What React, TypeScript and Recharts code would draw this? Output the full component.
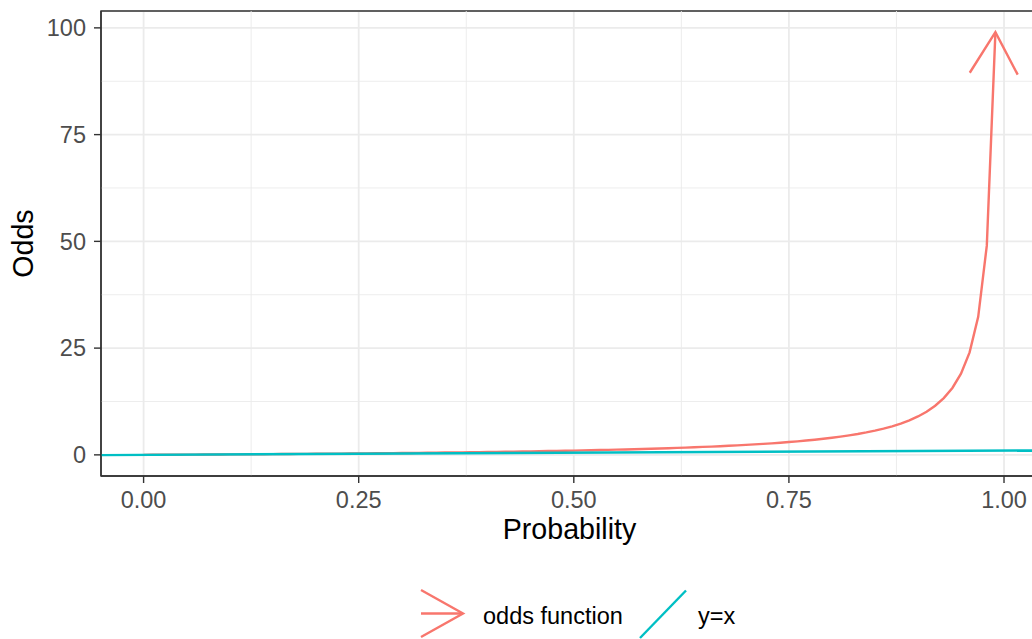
import { LineChart, Line, XAxis, YAxis, CartesianGrid, ReferenceLine, ReferenceArea, Legend, Label } from "recharts"

const probabilities = [
  0, 0.01, 0.02, 0.03, 0.04, 0.05, 0.06, 0.07, 0.08, 0.09,
  0.1, 0.11, 0.12, 0.13, 0.14, 0.15, 0.16, 0.17, 0.18, 0.19,
  0.2, 0.21, 0.22, 0.23, 0.24, 0.25, 0.26, 0.27, 0.28, 0.29,
  0.3, 0.31, 0.32, 0.33, 0.34, 0.35, 0.36, 0.37, 0.38, 0.39,
  0.4, 0.41, 0.42, 0.43, 0.44, 0.45, 0.46, 0.47, 0.48, 0.49,
  0.5, 0.51, 0.52, 0.53, 0.54, 0.55, 0.56, 0.57, 0.58, 0.59,
  0.6, 0.61, 0.62, 0.63, 0.64, 0.65, 0.66, 0.67, 0.68, 0.69,
  0.7, 0.71, 0.72, 0.73, 0.74, 0.75, 0.76, 0.77, 0.78, 0.79,
  0.8, 0.81, 0.82, 0.83, 0.84, 0.85, 0.86, 0.87, 0.88, 0.89,
  0.9, 0.91, 0.92, 0.93, 0.94, 0.95, 0.96, 0.97, 0.98, 0.99,
]

const odds = [
  0, 0.01, 0.02, 0.03, 0.04, 0.05, 0.06, 0.08, 0.09, 0.1,
  0.11, 0.12, 0.14, 0.15, 0.16, 0.18, 0.19, 0.2, 0.22, 0.23,
  0.25, 0.27, 0.28, 0.3, 0.32, 0.33, 0.35, 0.37, 0.39, 0.41,
  0.43, 0.45, 0.47, 0.49, 0.52, 0.54, 0.56, 0.59, 0.61, 0.64,
  0.67, 0.69, 0.72, 0.75, 0.79, 0.82, 0.85, 0.89, 0.92, 0.96,
  1, 1.04, 1.08, 1.13, 1.17, 1.22, 1.27, 1.33, 1.38, 1.44,
  1.5, 1.56, 1.63, 1.7, 1.78, 1.86, 1.94, 2.03, 2.13, 2.23,
  2.33, 2.45, 2.57, 2.7, 2.85, 3, 3.17, 3.35, 3.55, 3.76,
  4, 4.26, 4.56, 4.88, 5.25, 5.67, 6.14, 6.69, 7.33, 8.09,
  9, 10.11, 11.5, 13.29, 15.67, 19, 24, 32.33, 49, 99,
]

// y = x reference line runs across the whole panel
const identityEnds = [-0.0495, 1.0395]

const seriesNames = ["odds function", "y=x"]
const seriesColors = ["#F8766D", "#00BFC4"]

const xTicks = [0, 0.25, 0.5, 0.75, 1]
const yTicks = [0, 25, 50, 75, 100]
const xMinor = [0.125, 0.375, 0.625, 0.875]
const yMinor = [12.5, 37.5, 62.5, 87.5]
const xLimits = [-0.0495, 1.0395]
const yLimits = [-4.95, 103.95]

const oddsData = probabilities.map((p, i) => ({ p, value: odds[i] }))
const identityData = identityEnds.map((x) => ({ p: x, value: x }))

const font = "'Liberation Sans', Arial, Helvetica, sans-serif"
const tickStyle = { fontSize: 23.5, fill: "#4D4D4D", fontFamily: font }
const lineWidth = 2.4

function OddsLegend() {
  return (
    <svg width={1032} height={54} style={{ display: "block", fontFamily: font }}>
      <g stroke={seriesColors[0]} strokeWidth={lineWidth} fill="none">
        <line x1={421} y1={28.5} x2={463} y2={28.5} />
        <path d="M421,5 L463,28.5 L421,52" />
      </g>
      <text x={483} y={39} fontSize={23.5} fill="#000">{seriesNames[0]}</text>
      <line x1={640} y1={53} x2={686} y2={5.5} stroke={seriesColors[1]} strokeWidth={lineWidth} />
      <text x={698} y={39} fontSize={23.5} fill="#000">{seriesNames[1]}</text>
    </svg>
  )
}

export default function App() {
  return (
    <div style={{ position: "absolute", left: 0, top: 0, width: 1032, height: 639, overflow: "hidden", background: "#fff", fontFamily: font }}>
      <LineChart width={1045} height={639} margin={{ top: 11, right: 7, bottom: 0, left: 0 }}>
        <defs>
          <marker id="oddsArrow" viewBox="-50 -30 60 60" refX={0} refY={0} markerWidth={60} markerHeight={60} markerUnits="userSpaceOnUse" orient="auto">
            <path d="M-41.6,-24 L0,0 L-41.6,24" fill="none" stroke={seriesColors[0]} strokeWidth={lineWidth} />
          </marker>
        </defs>
        <CartesianGrid stroke="#EBEBEB" strokeWidth={1.8} />
        {xMinor.map((x) => (
          <ReferenceLine key={"xm" + x} x={x} stroke="#EBEBEB" strokeWidth={0.9} />
        ))}
        {yMinor.map((y) => (
          <ReferenceLine key={"ym" + y} y={y} stroke="#EBEBEB" strokeWidth={0.9} />
        ))}
        <XAxis
          type="number"
          dataKey="p"
          domain={xLimits}
          ticks={xTicks}
          tickFormatter={(v) => v.toFixed(2)}
          height={163}
          tick={tickStyle}
          tickSize={7}
          tickMargin={8}
          axisLine={{ stroke: "#333333", strokeWidth: 1.4 }}
          tickLine={{ stroke: "#333333", strokeWidth: 1.4 }}
        >
          <Label value="Probability" position="insideBottom" offset={100} style={{ fontSize: 28.6, fill: "#000", fontFamily: font }} />
        </XAxis>
        <YAxis
          type="number"
          domain={yLimits}
          ticks={yTicks}
          width={101}
          tick={tickStyle}
          tickSize={7}
          tickMargin={8}
          axisLine={{ stroke: "#333333", strokeWidth: 1.4 }}
          tickLine={{ stroke: "#333333", strokeWidth: 1.4 }}
        >
          <Label value="Odds" angle={-90} position="insideLeft" offset={23} style={{ fontSize: 28.6, fill: "#000", fontFamily: font, textAnchor: "middle" }} />
        </YAxis>
        <Line
          data={oddsData}
          dataKey="value"
          name={seriesNames[0]}
          stroke={seriesColors[0]}
          strokeWidth={lineWidth}
          dot={false}
          activeDot={false}
          markerEnd="url(#oddsArrow)"
          isAnimationActive={false}
        />
        <Line
          data={identityData}
          dataKey="value"
          name={seriesNames[1]}
          stroke={seriesColors[1]}
          strokeWidth={lineWidth}
          dot={false}
          activeDot={false}
          isAnimationActive={false}
        />
        <ReferenceArea x1={xLimits[0]} x2={xLimits[1]} y1={yLimits[0]} y2={yLimits[1]} fill="none" fillOpacity={0} stroke="#333333" strokeWidth={1.4} />
        <Legend
          layout="horizontal"
          verticalAlign="middle"
          align="center"
          wrapperStyle={{ left: 0, top: 585, width: 1032, height: 54 }}
          content={() => <OddsLegend />}
        />
      </LineChart>
    </div>
  )
}
